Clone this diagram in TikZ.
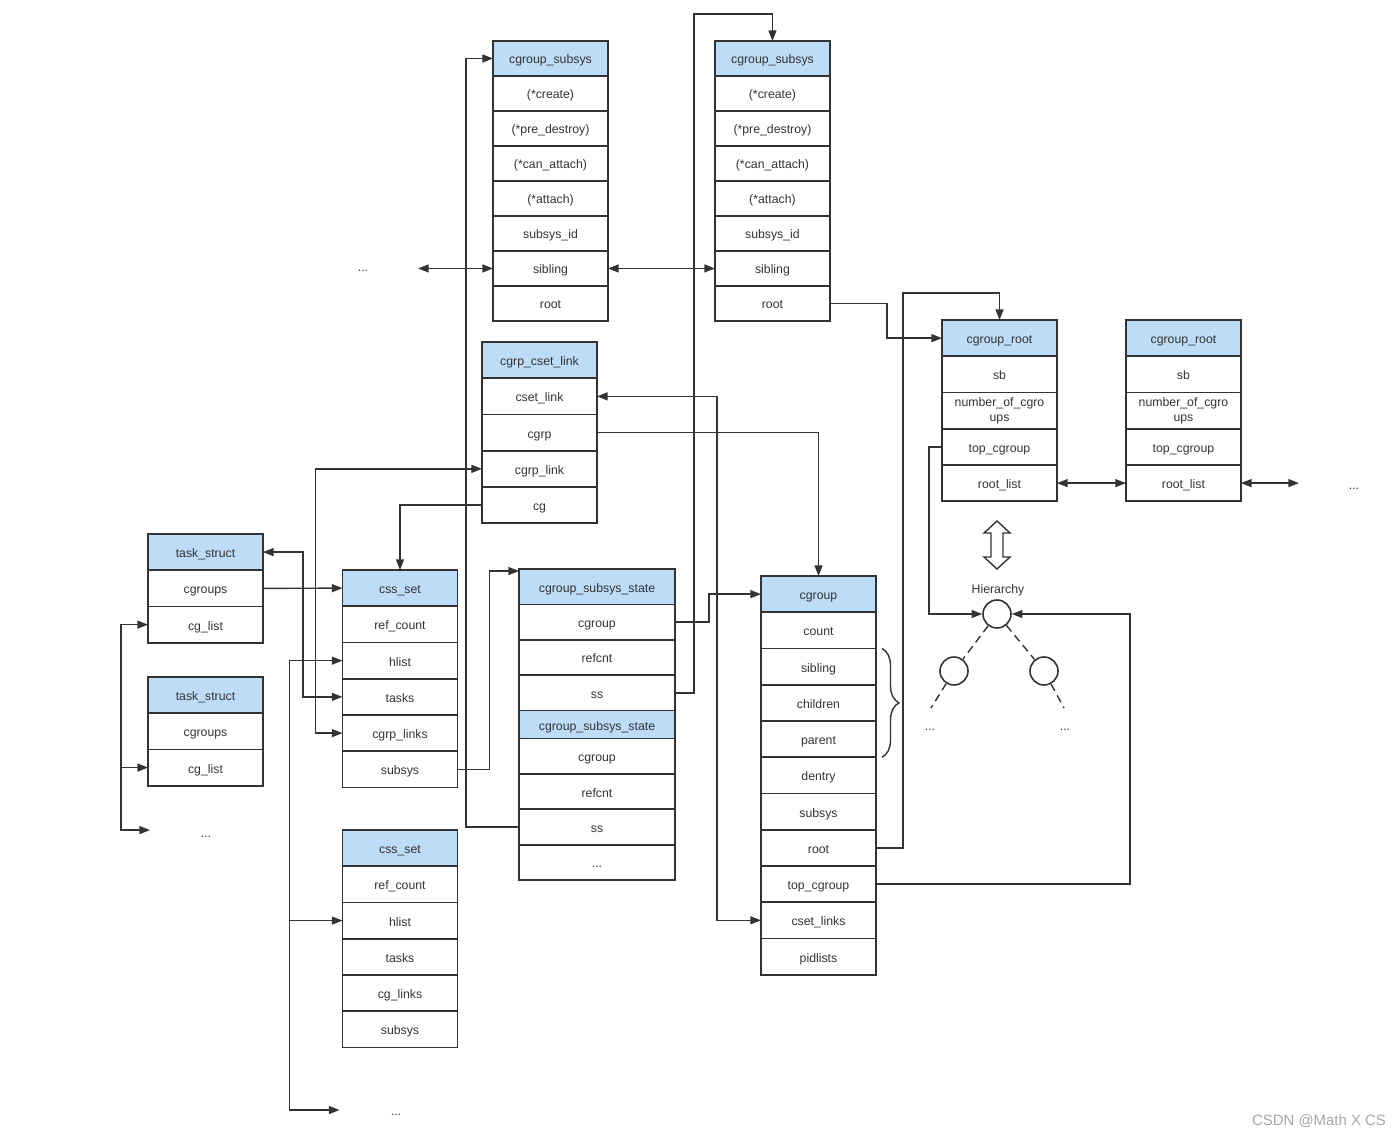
\documentclass[tikz,border=0pt]{standalone}
\usepackage{fontspec}
\setmainfont{Liberation Sans}
\usepackage{tikz}
\usetikzlibrary{positioning, arrows.meta, decorations.pathreplacing}
\definecolor{hdrblue}{HTML}{BDDCF7}
\definecolor{ink}{HTML}{333333}
\tikzstyle{member} = [font=\fontsize{7}{8.5}\selectfont, rectangle, minimum width=2.3cm, minimum height=0.725cm, inner sep=0pt, outer sep=0pt, text height=6.8pt, text depth=0.6pt, align=center, draw=ink, line width=1pt, text=ink]
\tikzstyle{twolines} = [member, text height=13.6pt, text depth=1.5pt]
\tikzstyle{structhead} = [member, fill=hdrblue]
\tikzstyle{opsmember} = [member, minimum height=0.7cm]
\tikzstyle{opshead} = [opsmember, fill=hdrblue]
\tikzstyle{cssmember} = [member, minimum width=3.12cm, minimum height=0.708cm]
\tikzstyle{csshead} = [cssmember, fill=hdrblue]
\tikzstyle{etc} = [font=\fontsize{7}{8.5}\selectfont, text=ink]
\tikzstyle{arrow} = [ink, line width=0.8pt, -{Triangle[length=6pt,width=4.5pt]}]
\tikzstyle{biarrow} = [ink, line width=0.8pt, {Triangle[length=6pt,width=4.5pt]}-{Triangle[length=6pt,width=4.5pt]}]
\tikzstyle{treenode} = [circle, draw=ink, line width=0.9pt, minimum size=0.56cm, inner sep=0pt]
\tikzstyle{treeedge} = [ink, line width=0.8pt, dash pattern=on 4.5pt off 2.8pt]

\begin{document}
\begin{tikzpicture}[x=0.02cm, y=-0.02cm]
  \useasboundingbox (0,0) rectangle (1396,1135);

  \node (subsys_a) [opshead] at (550.5,58.5) {cgroup\_subsys};
  \node (subsys_a_create) [opsmember, below=0pt of subsys_a] {(*create)};
  \node (subsys_a_destroy) [opsmember, below=0pt of subsys_a_create] {(*pre\_destroy)};
  \node (subsys_a_canattach) [opsmember, below=0pt of subsys_a_destroy] {(*can\_attach)};
  \node (subsys_a_attach) [opsmember, below=0pt of subsys_a_canattach] {(*attach)};
  \node (subsys_a_id) [opsmember, below=0pt of subsys_a_attach] {subsys\_id};
  \node (subsys_a_sibling) [opsmember, below=0pt of subsys_a_id] {sibling};
  \node (subsys_a_root) [opsmember, below=0pt of subsys_a_sibling] {root};

  \node (subsys_b) [opshead, right=2.14cm of subsys_a] {cgroup\_subsys};
  \node (subsys_b_create) [opsmember, below=0pt of subsys_b] {(*create)};
  \node (subsys_b_destroy) [opsmember, below=0pt of subsys_b_create] {(*pre\_destroy)};
  \node (subsys_b_canattach) [opsmember, below=0pt of subsys_b_destroy] {(*can\_attach)};
  \node (subsys_b_attach) [opsmember, below=0pt of subsys_b_canattach] {(*attach)};
  \node (subsys_b_id) [opsmember, below=0pt of subsys_b_attach] {subsys\_id};
  \node (subsys_b_sibling) [opsmember, below=0pt of subsys_b_id] {sibling};
  \node (subsys_b_root) [opsmember, below=0pt of subsys_b_sibling] {root};

  \node (subsys_more) [etc] at (363,271) {...};

  \node (root_a) [structhead] at (999.5,338.125) {cgroup\_root};
  \node (root_a_sb) [member, below=0pt of root_a] {sb};
  \node (root_a_num) [twolines, below=0pt of root_a_sb] {number\_of\_cgro\\ups};
  \node (root_a_top) [member, below=0pt of root_a_num] {top\_cgroup};
  \node (root_a_list) [member, below=0pt of root_a_top] {root\_list};

  \node (root_b) [structhead, right=1.38cm of root_a] {cgroup\_root};
  \node (root_b_sb) [member, below=0pt of root_b] {sb};
  \node (root_b_num) [twolines, below=0pt of root_b_sb] {number\_of\_cgro\\ups};
  \node (root_b_top) [member, below=0pt of root_b_num] {top\_cgroup};
  \node (root_b_list) [member, below=0pt of root_b_top] {root\_list};

  \node (root_more) [etc] at (1354,489) {...};

  \node (link) [structhead] at (539.5,360.125) {cgrp\_cset\_link};
  \node (link_csetlink) [member, below=0pt of link] {cset\_link};
  \node (link_cgrp) [member, below=0pt of link_csetlink] {cgrp};
  \node (link_cgrplink) [member, below=0pt of link_cgrp] {cgrp\_link};
  \node (link_cg) [member, below=0pt of link_cgrplink] {cg};

  \node (ts_a) [structhead] at (205.5,552.125) {task\_struct};
  \node (ts_a_cgroups) [member, below=0pt of ts_a] {cgroups};
  \node (ts_a_cglist) [member, below=0pt of ts_a_cgroups] {cg\_list};

  \node (ts_b) [structhead, below=0.685cm of ts_a_cglist] {task\_struct};
  \node (ts_b_cgroups) [member, below=0pt of ts_b] {cgroups};
  \node (ts_b_cglist) [member, below=0pt of ts_b_cgroups] {cg\_list};

  \node (ts_more) [etc] at (206,837) {...};

  \node (css_a) [structhead] at (400,588.125) {css\_set};
  \node (css_a_ref) [member, below=0pt of css_a] {ref\_count};
  \node (css_a_hlist) [member, below=0pt of css_a_ref] {hlist};
  \node (css_a_tasks) [member, below=0pt of css_a_hlist] {tasks};
  \node (css_a_links) [member, below=0pt of css_a_tasks] {cgrp\_links};
  \node (css_a_subsys) [member, below=0pt of css_a_links] {subsys};

  \node (css_b) [structhead, below=0.85cm of css_a_subsys] {css\_set};
  \node (css_b_ref) [member, below=0pt of css_b] {ref\_count};
  \node (css_b_hlist) [member, below=0pt of css_b_ref] {hlist};
  \node (css_b_tasks) [member, below=0pt of css_b_hlist] {tasks};
  \node (css_b_links) [member, below=0pt of css_b_tasks] {cg\_links};
  \node (css_b_subsys) [member, below=0pt of css_b_links] {subsys};

  \node (css_more) [etc] at (396,1115) {...};

  \node (state_a) [csshead] at (597,586.7) {cgroup\_subsys\_state};
  \node (state_a_cgroup) [cssmember, below=0pt of state_a] {cgroup};
  \node (state_a_refcnt) [cssmember, below=0pt of state_a_cgroup] {refcnt};
  \node (state_a_ss) [cssmember, below=0pt of state_a_refcnt] {ss};
  \node (state_b) [csshead, minimum height=0.56cm, below=0pt of state_a_ss] {cgroup\_subsys\_state};
  \node (state_b_cgroup) [cssmember, below=0pt of state_b] {cgroup};
  \node (state_b_refcnt) [cssmember, below=0pt of state_b_cgroup] {refcnt};
  \node (state_b_ss) [cssmember, below=0pt of state_b_refcnt] {ss};
  \node (state_b_more) [cssmember, below=0pt of state_b_ss] {...};

  \node (cg) [structhead] at (818.5,594.125) {cgroup};
  \node (cg_count) [member, below=0pt of cg] {count};
  \node (cg_sibling) [member, below=0pt of cg_count] {sibling};
  \node (cg_children) [member, below=0pt of cg_sibling] {children};
  \node (cg_parent) [member, below=0pt of cg_children] {parent};
  \node (cg_dentry) [member, below=0pt of cg_parent] {dentry};
  \node (cg_subsys) [member, below=0pt of cg_dentry] {subsys};
  \node (cg_root) [member, below=0pt of cg_subsys] {root};
  \node (cg_top) [member, below=0pt of cg_root] {top\_cgroup};
  \node (cg_csetlinks) [member, below=0pt of cg_top] {cset\_links};
  \node (cg_pidlists) [member, below=0pt of cg_csetlinks] {pidlists};

  \node (hier) [treenode] at (997,614) {};
  \node (hier_label) [etc] at (998,590) {Hierarchy};
  \node (hier_l) [treenode] at (954,671) {};
  \node (hier_r) [treenode] at (1044,671) {};
  \coordinate (hier_l_end) at (931,708);
  \coordinate (hier_r_end) at (1064,708);
  \node (hier_l_more) [etc] at (930,730) {...};
  \node (hier_r_more) [etc] at (1065,730) {...};

  \node (mark) [font=\fontsize{8.5}{10}\selectfont, text=black!35] at (1319,1121) {CSDN @Math X CS};

  \coordinate (subsys_end) at ([xshift=-1.5cm]subsys_a_sibling.west);
  \coordinate (root_end) at ([xshift=1.16cm]root_b_list.east);
  \coordinate (ts_end) at ([xshift=0.04cm, yshift=-1.25cm]ts_b_cglist.west);
  \coordinate (hlist_end) at ([xshift=-0.06cm, yshift=-3.79cm]css_b_hlist.west);

  \draw[biarrow] (subsys_a_sibling.east) -- (subsys_b_sibling.west);
  \draw[biarrow] (subsys_end) -- (subsys_a_sibling.west);
  \draw[arrow] (state_b_ss.west) -- ++(-53,0) |- (subsys_a.west);
  \draw[arrow] (state_a_ss.east) -- ++(19,0) |- ([yshift=0.54cm]subsys_b.north) -- (subsys_b.north);
  \draw[arrow] (subsys_b_root.east) -- ++(57,0) |- (root_a.west);
  \draw[biarrow] (root_a_list.east) -- (root_b_list.west);
  \draw[biarrow] (root_b_list.east) -- (root_end);
  \draw[arrow] (ts_a_cgroups.east) -- (css_a.west);
  \draw[biarrow] (ts_a.east) -- ++(40,0) |- (css_a_tasks.west);
  \draw[biarrow] (ts_a_cglist.west) -- ++(-27,0) |- (ts_end);
  \draw[arrow] ([xshift=-0.54cm]ts_a_cglist.west) |- (ts_b_cglist.west);
  \draw[biarrow] (css_a_hlist.west) -- ++(-53,0) |- (hlist_end);
  \draw[arrow] ([xshift=-1.06cm]css_a_hlist.west) |- (css_b_hlist.west);
  \draw[biarrow] (css_a_links.west) -- ++(-27,0) |- (link_cgrplink.west);
  \draw[arrow] (link_cg.west) -| (css_a.north);
  \draw[arrow] (css_a_subsys.east) -- ++(32,0) |- ([yshift=-0.04cm]state_a.north west);
  \draw[arrow] (state_a_cgroup.east) -- ++(34,0) |- (cg.west);
  \draw[arrow] (link_cgrp.east) -| (cg.north);
  \draw[biarrow] (link_csetlink.east) -- ++(120,0) |- (cg_csetlinks.west);
  \draw[arrow] (cg_root.east) -- ++(27,0) |- ([yshift=0.54cm]root_a.north) -- (root_a.north);
  \draw[arrow] (cg_top.east) -- ++(254,0) |- (hier.east);
  \draw[arrow] (root_a_top.west) -- ++(-13,0) |- (hier.west);
  \draw[treeedge] (hier) -- (hier_l);
  \draw[treeedge] (hier) -- (hier_r);
  \draw[treeedge] (hier_l) -- (hier_l_end);
  \draw[treeedge] (hier_r) -- (hier_r_end);
  \draw[ink, line width=0.8pt, decorate, decoration={brace, amplitude=0.34cm}] ([xshift=0.12cm]cg_sibling.north east) -- ([xshift=0.12cm]cg_parent.south east);
  \draw[ink, line width=0.8pt] (997,521) -- (1010,533) -- (1003,533) -- (1003,557) -- (1010,557) -- (997,569) -- (984,557) -- (991,557) -- (991,533) -- (984,533) -- cycle;
\end{tikzpicture}
\end{document}
